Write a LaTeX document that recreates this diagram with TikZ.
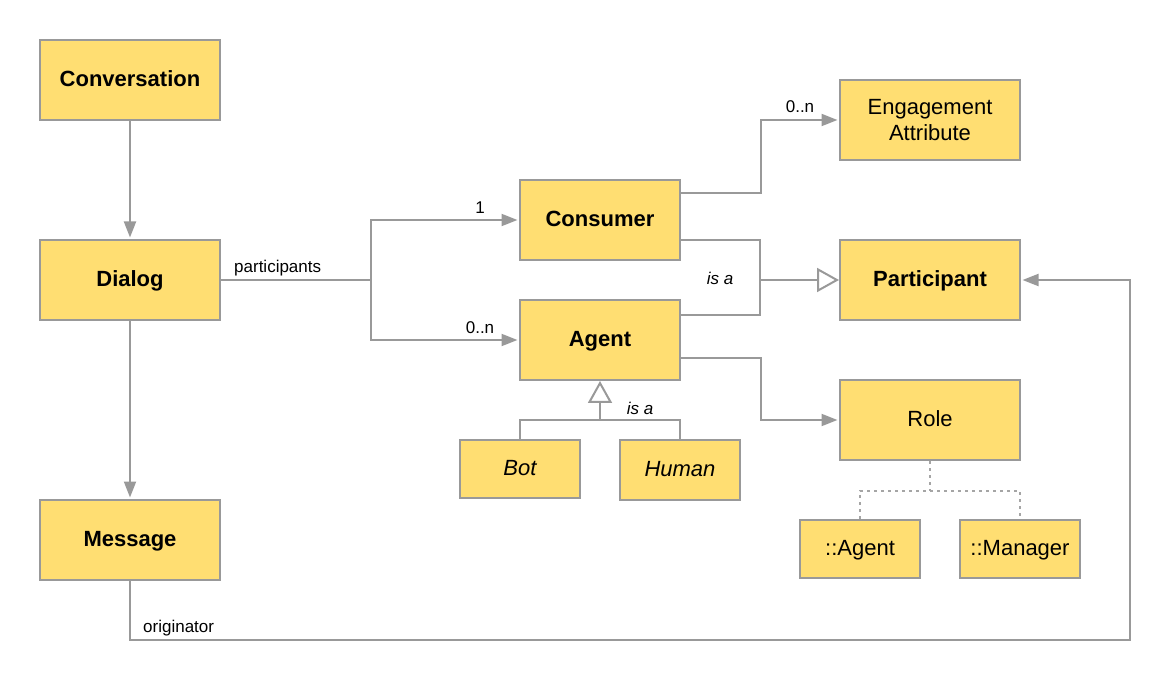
\documentclass[tikz,border=0pt]{standalone}
\usepackage{fontspec}
\setmainfont{Liberation Sans}
\definecolor{boxfill}{RGB}{255,222,114}
\definecolor{linegray}{RGB}{153,153,153}
\definecolor{dotgray}{RGB}{165,165,165}
\usetikzlibrary{arrows.meta,positioning}

\begin{document}
\begin{tikzpicture}[x=1pt,y=-1pt,>={Triangle[length=16pt,width=12pt]},
    entity/.style={draw=linegray,line width=2pt,fill=boxfill,minimum width=180pt,minimum height=80pt,
      inner sep=0pt,align=center,text depth=3pt,font=\fontsize{22}{26}\selectfont},
    keyentity/.style={entity,font=\fontsize{22}{26}\selectfont\bfseries},
    smallentity/.style={entity,minimum width=120pt,minimum height=58pt},
    link/.style={linegray,line width=2pt},
    arrow/.style={link,->,shorten >=1.5pt},
    dots/.style={dotgray,line width=2.6pt,dash pattern=on 2.6pt off 4.4pt},
    isa/.style={-{Triangle[open,length=22pt,width=24pt,fill=white]}},
    lbl/.style={inner sep=0pt,font=\fontsize{17}{20}\selectfont}]
        \useasboundingbox (0,0) rectangle (1170,700);

        % left column
        \node[keyentity] (conv) at (130,80) {Conversation};
        \node[keyentity] (dialog) at (130,280) {Dialog};
        \node[keyentity] (msg) at (130,540) {Message};

        % participants
        \node[keyentity,minimum width=160pt] (cons) at (600,220) {Consumer};
        \node[keyentity,minimum width=160pt] (agent) at (600,340) {Agent};
        \node[smallentity,font=\fontsize{22}{26}\selectfont\itshape] (bot) at (520,469) {Bot};
        \node[smallentity,minimum height=60pt,font=\fontsize{22}{26}\selectfont\itshape] (hum) at (680,470) {Human};

        % right column
        \node[entity,text depth=0pt] (engage) at (930,120) {Engagement\\Attribute};
        \node[keyentity] (part) at (930,280) {Participant};
        \node[entity] (role) at (930,420) {Role};
        \node[smallentity] (ragent) at (860,549) {::Agent};
        \node[smallentity] (rmgr) at (1020,549) {::Manager};

        \coordinate (isajoin) at (760,280);
        \coordinate (botjoin) at (600,420);
        \coordinate (origturn) at (1130,640);

        \draw[arrow] (conv) -- (dialog);
        \draw[arrow] (dialog) -- (msg);
        \draw[arrow] (dialog.east) -- ++(150,0) coordinate (split) |- (cons.west);
        \draw[arrow] (split) |- (agent.west);
        \draw[arrow] ([yshift=27pt]cons.east) -- ++(80,0) |- (engage.west);
        \draw[link] ([yshift=-20pt]cons.east) -| (isajoin);
        \draw[link] ([yshift=25pt]agent.east) -| (isajoin);
        \draw[link,isa] (isajoin) -- (part.west);
        \draw[arrow] ([yshift=-18pt]agent.east) -- ++(80,0) |- (role.west);
        \draw[link] (bot.north) |- (botjoin) -| (hum.north);
        \draw[link,isa] (botjoin) -- (agent.south);
        \draw[dots] (role.south) -- ++(0,30) coordinate (rolejoin);
        \draw[dots] (ragent.north) |- (rolejoin) -| (rmgr.north);
        \draw[arrow] (msg.south) |- (origturn) |- (part.east);

        % labels
        \node[lbl,anchor=west] (lblpart) at (234,268) {participants};
        \node[lbl] (lblone) at (480,208) {1};
        \node[lbl] (lblagent) at (480,328) {0..n};
        \node[lbl] (lblengage) at (800,107) {0..n};
        \node[lbl,font=\fontsize{17}{20}\selectfont\itshape] (lblisa) at (720,278) {is a};
        \node[lbl,font=\fontsize{17}{20}\selectfont\itshape] (lblisab) at (640,408) {is a};
        \node[lbl,anchor=west] (lblorig) at (143,628) {originator};
      \end{tikzpicture}
\end{document}
